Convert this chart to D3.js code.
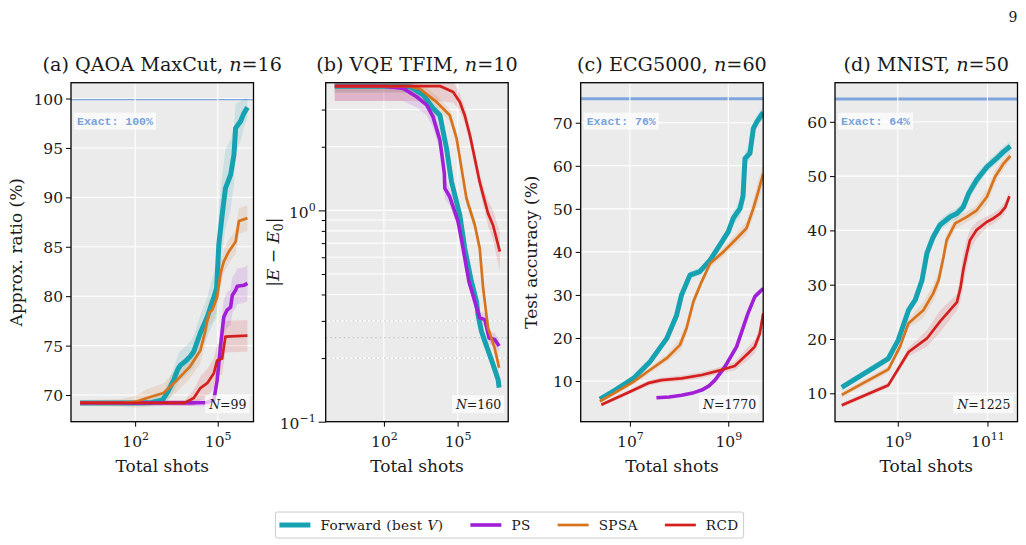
<!DOCTYPE html>
<html>
<head>
<meta charset="utf-8">
<script src="https://cdn.jsdelivr.net/npm/d3@7"></script>
<style>
  body { margin: 0; background: #fff; }
  text { font-family: 'DejaVu Serif', serif; fill: #1a1a1a; }
  .tick text { font-size: 15.5px; }
  .title { font-size: 19.2px; }
  .axis-label { font-size: 17px; }
  .legend-text { font-size: 13.6px; letter-spacing: 0.4px; }
  .exact-text { font-family: 'Liberation Mono', monospace; font-size: 11.5px; font-weight: bold; fill: #77a2dc; }
  .n-text { font-size: 12.5px; }
</style>
</head>
<body>
<svg id="chart" width="1026" height="545"></svg>
<script>
'use strict';

// Each point: [log10(total shots), value, half-width of the shaded band]
// (for the VQE panel the band half-width is in log10 units)

const qaoaForward = [[0, 69.2, 0.2], [1, 69.2, 0.2], [2, 69.2, 0.3], [2.6, 69.25, 0.4], [3.0, 69.5, 0.6],
    [3.2, 70.4, 0.9], [3.4, 71.5, 1.2], [3.55, 72.6, 1.4], [3.64, 73.0, 1.5], [3.82, 73.4, 1.5],
    [4.0, 73.9, 1.5], [4.13, 74.4, 1.6], [4.37, 76.3, 1.8], [4.62, 77.9, 2.0], [4.86, 79.9, 2.5],
    [4.96, 80.8, 3], [5.04, 85.2, 4], [5.16, 88.2, 4], [5.28, 90.9, 4], [5.47, 92.3, 3.5],
    [5.59, 94.3, 3], [5.65, 97.0, 2.5], [5.83, 97.7, 2], [5.95, 98.5, 1.5], [6.08, 99.1, 1.0]];
const qaoaPS = [[0, 69.2, 0.2], [2, 69.2, 0.2], [4.0, 69.2, 0.3], [4.6, 69.25, 0.4], [4.86, 69.5, 0.6],
    [4.98, 71.5, 1.2], [5.10, 74.9, 1.6], [5.22, 77.9, 1.8], [5.34, 78.6, 1.8], [5.47, 78.9, 1.8],
    [5.53, 80.1, 1.8], [5.65, 80.6, 1.8], [5.71, 81.0, 1.8], [5.95, 81.1, 1.8], [6.08, 81.3, 1.8]];
const qaoaSPSA = [[0, 69.2, 0.3], [1.5, 69.2, 0.4], [2.0, 69.3, 0.6], [2.43, 69.7, 0.9], [3.03, 70.2, 1.0],
    [3.52, 71.5, 1.2], [4.0, 72.9, 1.2], [4.37, 74.5, 1.3], [4.55, 76.5, 1.3], [4.68, 78.3, 1.3],
    [4.8, 78.6, 1.3], [4.98, 79.9, 1.3], [5.10, 82.2, 1.3], [5.16, 82.9, 1.2], [5.22, 83.5, 1.2],
    [5.40, 84.5, 1.2], [5.65, 85.5, 1.2], [5.77, 87.6, 1.3], [6.08, 87.9, 1.3]];
const qaoaRCD = [[0, 69.2, 0.2], [3.8, 69.2, 0.3], [4.13, 69.7, 0.8], [4.37, 70.7, 1.2], [4.62, 71.2, 1.4],
    [4.86, 72.2, 1.5], [4.98, 73.5, 1.6], [5.16, 73.7, 1.6], [5.28, 75.9, 1.6], [6.08, 76.0, 1.6]];

const vqeForward = [[0, 3.87, 0.03], [2.5, 3.87, 0.03], [3.06, 3.85, 0.03], [3.6, 3.52, 0.03],
    [4.0, 3.04, 0.03], [4.28, 2.82, 0.03], [4.55, 1.96, 0.03], [4.75, 1.37, 0.03], [5.09, 0.95, 0.03],
    [5.29, 0.662, 0.03], [5.56, 0.461, 0.03], [5.77, 0.371, 0.03], [5.83, 0.321, 0.03],
    [5.97, 0.268, 0.03], [6.11, 0.240, 0.03], [6.44, 0.187, 0.03], [6.65, 0.158, 0.03], [6.69, 0.145, 0.03]];
const vqePS = [[0, 3.87, 0.07], [2.0, 3.87, 0.07], [2.78, 3.78, 0.06], [3.33, 3.45, 0.05], [3.74, 3.16, 0.05],
    [4.0, 2.77, 0.05], [4.28, 2.15, 0.05], [4.46, 1.50, 0.05], [4.48, 1.27, 0.05], [4.68, 1.16, 0.04],
    [5.02, 0.885, 0.03], [5.22, 0.662, 0.03], [5.46, 0.461, 0.03], [5.70, 0.371, 0.03], [5.90, 0.310, 0.03],
    [6.11, 0.304, 0.03], [6.28, 0.249, 0.03], [6.51, 0.245, 0.03], [6.69, 0.228, 0.03]];
const vqeSPSA = [[0, 3.87, 0.03], [3.0, 3.87, 0.03], [3.46, 3.76, 0.03], [4.14, 3.26, 0.03], [4.68, 2.82, 0.03],
    [4.96, 2.19, 0.03], [5.16, 1.58, 0.03], [5.36, 1.14, 0.03], [5.70, 0.853, 0.03], [5.90, 0.662, 0.03],
    [6.04, 0.428, 0.03], [6.24, 0.277, 0.03], [6.51, 0.223, 0.03], [6.69, 0.180, 0.03]];
const vqeRCD = [[0, 3.87, 0.07], [4.3, 3.87, 0.07], [4.82, 3.63, 0.05], [5.09, 3.26, 0.04], [5.29, 2.82, 0.04],
    [5.50, 2.27, 0.04], [5.70, 1.76, 0.04], [5.90, 1.36, 0.04], [6.11, 1.10, 0.05], [6.24, 0.968, 0.06],
    [6.44, 0.853, 0.07], [6.58, 0.738, 0.08], [6.72, 0.638, 0.09]];

const ecgForward = [[6.39, 5.8, 0.5], [6.7, 7.9, 0.5], [7.07, 10.6, 0.6], [7.41, 14.5, 0.7], [7.75, 19.9, 0.8],
    [7.95, 25.3, 0.9], [8.05, 30.0, 0.9], [8.22, 34.6, 0.9], [8.42, 35.4, 0.9], [8.63, 38.1, 1.0],
    [8.83, 41.6, 1.0], [9.0, 44.7, 1.2], [9.10, 47.8, 1.5], [9.24, 50.1, 2.0], [9.30, 53.0, 2.0],
    [9.34, 61.7, 1.5], [9.44, 62.9, 1.5], [9.51, 68.7, 1.5], [9.58, 70.2, 1.5], [9.71, 72.4, 1.5]];
const ecgPS = [[7.54, 6.1, 0.3], [7.8, 6.3, 0.3], [8.05, 6.7, 0.3], [8.3, 7.3, 0.3], [8.46, 7.9, 0.4],
    [8.6, 8.8, 0.5], [8.73, 10.2, 0.6], [8.93, 13.3, 0.8], [9.17, 18.0, 1.0], [9.40, 25.7, 1.0],
    [9.54, 29.6, 0.8], [9.71, 31.5, 0.6]];
const ecgSPSA = [[6.39, 5.3, 0.5], [6.7, 7.3, 0.5], [7.07, 9.8, 0.6], [7.4, 12.5, 0.7], [7.75, 15.3, 0.8],
    [8.02, 18.4, 1.5], [8.15, 22.2, 1.5], [8.29, 28.4, 1.3], [8.46, 33.1, 1.0], [8.63, 37.3, 1.0],
    [8.90, 40.0, 1.0], [9.17, 43.1, 1.2], [9.37, 45.5, 1.5], [9.51, 50.1, 2.0], [9.61, 54.0, 2.5], [9.71, 58.2, 2.5]];
const ecgRCD = [[6.42, 4.5, 0.4], [7.0, 7.5, 0.5], [7.37, 9.5, 0.6], [7.64, 10.2, 0.6], [8.05, 10.6, 0.7],
    [8.46, 11.4, 0.7], [8.87, 12.6, 0.8], [9.13, 13.5, 1.0], [9.40, 16.4, 1.5], [9.54, 18.0, 1.5],
    [9.64, 21.0, 1.5], [9.71, 25.7, 1.5]];

const mnistForward = [[7.75, 11.1, 0.6], [8.79, 16.4, 0.6], [9.01, 19.8, 0.7], [9.24, 25.3, 0.8], [9.39, 27.2, 0.8],
    [9.54, 30.8, 0.9], [9.65, 35.8, 1.5], [9.79, 38.8, 1.2], [9.94, 41.0, 1.0], [10.17, 42.5, 1.0],
    [10.32, 43.1, 1.0], [10.46, 44.3, 1.0], [10.58, 46.8, 1.2], [10.76, 49.3, 1.2], [10.99, 51.7, 1.0],
    [11.21, 53.3, 1.0], [11.36, 54.5, 1.0], [11.51, 55.5, 1.0]];
const mnistSPSA = [[7.75, 9.7, 0.5], [8.79, 14.4, 0.6], [9.05, 18.6, 0.8], [9.24, 22.9, 0.8], [9.57, 25.3, 1.5],
    [9.79, 28.4, 1.5], [9.91, 30.8, 1.5], [10.02, 35.1, 1.5], [10.09, 38.2, 1.2], [10.28, 41.3, 1.0],
    [10.54, 42.5, 1.0], [10.76, 43.7, 1.0], [10.99, 46.2, 1.5], [11.17, 49.9, 1.2], [11.36, 52.3, 1.0],
    [11.51, 53.7, 0.8]];
const mnistRCD = [[7.75, 7.8, 0.4], [8.79, 11.5, 0.5], [9.24, 17.6, 0.8], [9.65, 20.1, 1.5], [9.94, 23.2, 2.0],
    [10.32, 26.8, 1.5], [10.40, 29.5, 2.5], [10.46, 32.7, 3], [10.54, 35.8, 2.5], [10.61, 38.2, 2],
    [10.76, 40.1, 1.5], [10.99, 41.6, 1.0], [11.13, 42.2, 1.0], [11.28, 43.1, 1.0], [11.40, 44.3, 1.0],
    [11.49, 46.3, 0.8]];

// ticks (x ticks are exponents of 10)
const qaoaXTicks = [2, 5];
const vqeXTicks = [2, 5];
const ecgXTicks = [7, 9];
const mnistXTicks = [9, 11];
const qaoaYTicks = [70, 75, 80, 85, 90, 95, 100];
const vqeYTicks = [0.1, 1];
const vqeYMinor = [0.2, 0.3, 0.4, 0.5, 0.6, 0.7, 0.8, 0.9, 2, 3];
const vqeRefLevels = [0.3, 0.25, 0.2];
const ecgYTicks = [10, 20, 30, 40, 50, 60, 70];
const mnistYTicks = [10, 20, 30, 40, 50, 60];

const methodLabels = ['Forward (best $V$)', 'PS', 'SPSA', 'RCD'];
const methodColors = ['#17a2b2', '#a11fd6', '#d8731d', '#d41f1f'];
const methodWidths = [5, 3.6, 2.7, 2.7];

const panelTitles = ['(a) QAOA MaxCut, $n$=16', '(b) VQE TFIM, $n$=10', '(c) ECG5000, $n$=60', '(d) MNIST, $n$=50'];
const yLabels = ['Approx. ratio (%)', '|$E$ − $E$_0|', 'Test accuracy (%)', ''];
const sampleSizes = [99, 160, 1770, 1225];
const exactValues = [99.9, null, 75.6, 64.2];
const exactLabels = ['Exact: 100%', null, 'Exact: 76%', 'Exact: 64%'];

// ---- layout ----
const panelLefts = [71, 325.7, 580.7, 835];
const panelTop = 82.7;
const panelW = 182.5;
const panelH = 339;
const yLabelBaselines = [22, 279, 537, null];

const panels = [
    {series: [qaoaForward, qaoaPS, qaoaSPSA, qaoaRCD], xExp: [-0.33, 6.30], yDom: [67.3, 101.6],
        xTicks: qaoaXTicks, yTicks: qaoaYTicks, logY: false},
    {series: [vqeForward, vqePS, vqeSPSA, vqeRCD], xExp: [-0.37, 7.06], yDom: [0.1, 4.02],
        xTicks: vqeXTicks, yTicks: vqeYTicks, yMinor: vqeYMinor, refs: vqeRefLevels, logY: true},
    {series: [ecgForward, ecgPS, ecgSPSA, ecgRCD], xExp: [6.0, 9.71], yDom: [0.55, 79.3],
        xTicks: ecgXTicks, yTicks: ecgYTicks, logY: false},
    {series: [mnistForward, null, mnistSPSA, mnistRCD], xExp: [7.60, 11.67], yDom: [4.77, 67.2],
        xTicks: mnistXTicks, yTicks: mnistYTicks, logY: false}
];

const svg = d3.select('#chart');

// "$..$" parts are italic, "_x" is a subscript
function richText(sel, str) {
    let shifted = false;
    str.split('$').forEach((part, j) => {
        part.split(/_(\w)/).forEach((piece, m) => {
            if (!piece) return;
            const ts = sel.append('tspan').text(piece);
            if (j % 2) ts.attr('font-style', 'italic');
            if (m % 2) {
                ts.attr('font-size', '0.72em').attr('dy', 4);
                shifted = true;
            } else if (shifted) {
                ts.attr('dy', -4);
                shifted = false;
            }
        });
    });
}

function powerLabel(sel, v) {
    const e = Math.round(Math.log10(v));
    sel.text(null);
    sel.append('tspan').text('10');
    sel.append('tspan').attr('dy', -7).attr('font-size', '11px').text(e < 0 ? '\u2212' + (-e) : e);
}

function boxedText(g, textSel, pad) {
    const b = textSel.node().getBBox();
    g.insert('rect', () => textSel.node())
        .attr('x', b.x - pad[0]).attr('y', b.y - pad[1])
        .attr('width', b.width + 2 * pad[0]).attr('height', b.height + 2 * pad[1])
        .attr('fill', '#fff').attr('fill-opacity', 0.7);
}

panels.forEach((p, i) => {
    const g = svg.append('g').attr('transform', 'translate(' + panelLefts[i] + ',' + panelTop + ')');
    const x = d3.scaleLog().domain(p.xExp.map(e => Math.pow(10, e))).range([0, panelW]);
    const y = (p.logY ? d3.scaleLog() : d3.scaleLinear()).domain(p.yDom).range([panelH, 0]);

    g.append('rect').attr('width', panelW).attr('height', panelH).attr('fill', '#ebebeb');
    g.append('clipPath').attr('id', 'clip' + i)
        .append('rect').attr('width', panelW).attr('height', panelH);
    const plot = g.append('g').attr('clip-path', 'url(#clip' + i + ')');

    // exact reference sits under the grid
    if (exactValues[i] !== null) {
        plot.append('line')
            .attr('x1', 0).attr('x2', panelW)
            .attr('y1', y(exactValues[i])).attr('y2', y(exactValues[i]))
            .attr('stroke', '#7ea6dc').attr('stroke-width', i === 0 ? 1.3 : 3);
    }

    // grid
    plot.selectAll('.hgrid')
        .data(p.yTicks.concat(p.yMinor || []))
        .enter().append('line')
        .attr('x1', 0).attr('x2', panelW)
        .attr('y1', d => y(d)).attr('y2', d => y(d))
        .attr('stroke', '#fff').attr('stroke-width', 1.1);
    plot.selectAll('.vgrid')
        .data(p.xTicks)
        .enter().append('line')
        .attr('y1', 0).attr('y2', panelH)
        .attr('x1', d => x(Math.pow(10, d))).attr('x2', d => x(Math.pow(10, d)))
        .attr('stroke', '#fff').attr('stroke-width', 1.1);

    if (p.refs) {
        plot.selectAll('.ref')
            .data(p.refs)
            .enter().append('line')
            .attr('x1', 0).attr('x2', panelW)
            .attr('y1', d => y(d)).attr('y2', d => y(d))
            .attr('stroke', '#c8c8c8').attr('stroke-width', 1.2)
            .attr('stroke-dasharray', '1.5,3');
    }

    const lo = d => p.logY ? d[1] / Math.pow(10, d[2]) : d[1] - d[2];
    const hi = d => p.logY ? d[1] * Math.pow(10, d[2]) : d[1] + d[2];
    const band = d3.area()
        .x(d => x(Math.pow(10, d[0])))
        .y0(d => y(lo(d)))
        .y1(d => y(hi(d)));
    const line = d3.line()
        .x(d => x(Math.pow(10, d[0])))
        .y(d => y(d[1]));

    p.series.forEach((s, k) => {
        if (!s) return;
        plot.append('path').attr('d', band(s))
            .attr('fill', methodColors[k]).attr('fill-opacity', 0.14);
    });
    p.series.forEach((s, k) => {
        if (!s) return;
        plot.append('path').attr('d', line(s))
            .attr('fill', 'none')
            .attr('stroke', methodColors[k])
            .attr('stroke-width', methodWidths[k])
            .attr('stroke-linejoin', 'round');
    });

    // exact label
    if (exactLabels[i]) {
        const t = g.append('text').attr('class', 'exact-text')
            .attr('x', 6).attr('y', 42).text(exactLabels[i]);
        boxedText(g, t, [3, 2]);
    }

    // sample size label
    const nt = g.append('text').attr('class', 'n-text')
        .attr('x', panelW - 7).attr('y', panelH - 13)
        .attr('text-anchor', 'end');
    richText(nt, '$N$=' + sampleSizes[i]);
    boxedText(g, nt, [3, 1.5]);

    // spines
    g.append('rect').attr('width', panelW).attr('height', panelH)
        .attr('fill', 'none').attr('stroke', '#000').attr('stroke-width', 1.3);

    // axes
    const xg = g.append('g').attr('transform', 'translate(0,' + panelH + ')')
        .call(d3.axisBottom(x)
            .tickValues(p.xTicks.map(e => Math.pow(10, e)))
            .tickSize(5).tickSizeOuter(0).tickPadding(9));
    xg.select('.domain').remove();
    xg.selectAll('.tick text').each(function(d) { powerLabel(d3.select(this), d); });

    const yg = g.append('g')
        .call(d3.axisLeft(y)
            .tickValues(p.yTicks)
            .tickSize(p.logY ? 7 : 5).tickSizeOuter(0).tickPadding(3)
            .tickFormat(p.logY ? null : d3.format('d')));
    yg.select('.domain').remove();
    yg.selectAll('.tick text').attr('dy', '0.36em');
    if (p.logY) {
        yg.selectAll('.tick text').attr('dy', '0.45em')
            .each(function(d) { powerLabel(d3.select(this), d); });
        const mg = g.append('g')
            .call(d3.axisLeft(y).tickValues(p.yMinor).tickSize(4).tickSizeOuter(0).tickFormat(''));
        mg.select('.domain').remove();
    }

    // title and labels
    const title = g.append('text').attr('class', 'title')
        .attr('x', panelW / 2).attr('y', 71 - panelTop)
        .attr('text-anchor', 'middle');
    richText(title, panelTitles[i]);

    g.append('text').attr('class', 'axis-label')
        .attr('x', panelW / 2).attr('y', 472.5 - panelTop)
        .attr('text-anchor', 'middle')
        .text('Total shots');

    if (yLabels[i]) {
        const yl = g.append('text').attr('class', 'axis-label')
            .attr('transform', 'translate(' + (yLabelBaselines[i] - panelLefts[i]) + ',' + (panelH / 2) + ') rotate(-90)')
            .attr('text-anchor', 'middle');
        richText(yl, yLabels[i]);
    }
});

// legend
const legend = svg.append('g');
let cursor = 0;
methodLabels.forEach((label, k) => {
    legend.append('line')
        .attr('x1', cursor).attr('x2', cursor + 31)
        .attr('y1', 0).attr('y2', 0)
        .attr('stroke', methodColors[k]).attr('stroke-width', methodWidths[k]);
    const t = legend.append('text').attr('class', 'legend-text')
        .attr('x', cursor + 41).attr('y', 0).attr('dy', '0.35em');
    richText(t, label);
    cursor += 41 + t.node().getComputedTextLength() + 27;
});
const legendW = cursor - 27;
legend.insert('rect', ':first-child')
    .attr('x', -4).attr('y', -13).attr('width', legendW + 9).attr('height', 26)
    .attr('rx', 2).attr('fill', '#fff').attr('stroke', '#cccccc');
legend.attr('transform', 'translate(' + (509 - legendW / 2) + ',525)');

// page number
svg.append('text').attr('x', 1013).attr('y', 22)
    .attr('text-anchor', 'middle').style('font-size', '14px').text('9');
</script>
</body>
</html>
